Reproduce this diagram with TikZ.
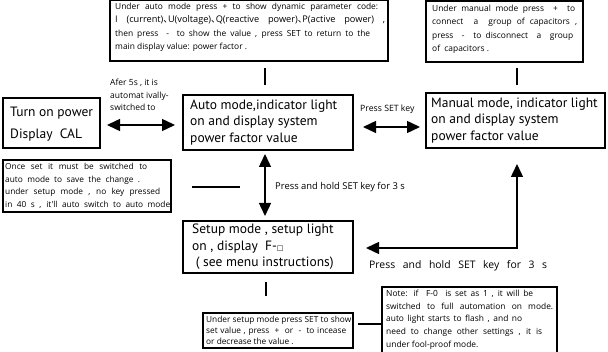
\documentclass[tikz,border=0pt]{standalone}
\usepackage{fontspec}
\setmainfont{PT Sans}
\newfontfamily\notefont{Open Sans}
\newfontfamily\cjkfont{Noto Sans CJK SC}
\newfontfamily\symfont{DejaVu Sans}
\usetikzlibrary{arrows.meta}
% narrow enumeration comma between the parameter names
\newcommand{\dunhao}{{\cjkfont 、}\kern-0.5em}
% one line of a note, spread to the given width
\newcommand{\fitline}[2]{\makebox[#1][s]{#2}}
\begin{document}
\begin{tikzpicture}[x=1pt,y=-1pt,
  frame/.style={draw,line width=1.1pt,anchor=north west,inner sep=0pt,outer sep=0pt},
  bigtext/.style={anchor=west,align=left,inner sep=0pt,font=\fontsize{13.5}{16.5}\selectfont},
  notetext/.style={anchor=north west,align=left,inner sep=0pt,font=\notefont\fontsize{8.4}{13.3}\selectfont},
  lbl/.style={align=left,inner sep=0pt,font=\notefont\fontsize{8.5}{12.5}\selectfont},
  conn/.style={line width=1.4pt},
  twotip/.style={{Triangle[length=13pt,width=12pt]}-{Triangle[length=13pt,width=12pt]}}]
\useasboundingbox (0,0) rectangle (608,352);

% ---- notes above the two running modes ----
\node[frame,minimum width=278pt,minimum height=61pt] (autonote) at (110,0) {};
\node[notetext] (autonotetxt) at ([shift={(5pt,-3pt)}]autonote.north west)
  {\fitline{263pt}{Under auto mode press + to show dynamic parameter code:}\\
   {\fontsize{9.2}{13.3}\selectfont\fitline{270pt}{I (current)\dunhao U(voltage)\dunhao Q(reactive power)\dunhao P(active power) ,}}\\
   \fitline{255pt}{then press \ - \ to show the value , press SET to return to the}\\
   main display value: power factor .};
\node[frame,minimum width=157pt,minimum height=61pt] (mannote) at (426,1) {};
\node[notetext] (mannotetxt) at ([shift={(6pt,-4pt)}]mannote.north west)
  {\fitline{143pt}{Under manual mode press \ + \ to}\\
   \fitline{145pt}{connect \ a \ group of capacitors ,}\\
   \fitline{141pt}{press \ - \ to disconnect \ a \ group}\\
   of \ capacitors .};

% ---- main state boxes ----
\node[frame,minimum width=97pt,minimum height=50pt] (power) at (3,98) {};
\node[bigtext,font=\fontsize{13.5}{22}\selectfont] (powertxt) at ([shift={(7pt,-1.5pt)}]power.west)
  {Turn on power\\ Display \ CAL};
\node[frame,minimum width=170pt,minimum height=55pt] (auto) at (183,95) {};
\node[bigtext] (autotxt) at ([xshift=7pt]auto.west)
  {Auto mode,indicator light\\ on and display system\\ power factor value};
\node[frame,minimum width=179pt,minimum height=55pt] (manual) at (426,93) {};
\node[bigtext] (manualtxt) at ([xshift=5pt]manual.west)
  {Manual mode, indicator light\\ on and display system\\ power factor value};
\node[frame,minimum width=170pt,minimum height=52pt] (setup) at (183,221) {};
\node[bigtext] (setuptxt) at ([xshift=9pt]setup.west)
  {Setup mode , setup light\\ on , display \ F-{\symfont\fontsize{7}{7}\selectfont □}\\
   \ ( see menu instructions)};

% ---- side notes ----
\node[frame,minimum width=168pt,minimum height=52pt] (savenote) at (3,160) {};
\node[notetext,font=\notefont\fontsize{8.3}{12.5}\selectfont] (savenotetxt) at ([shift={(2pt,-3pt)}]savenote.north west)
  {\fitline{142pt}{Once set it must be switched to}\\
   \fitline{135pt}{auto mode to save the change .}\\
   \fitline{155pt}{under setup mode , no key pressed}\\
   \fitline{165pt}{in 40 s , it'll auto switch to auto mode}};
\node[frame,minimum width=150pt,minimum height=35pt] (setnote) at (203,313) {};
\node[notetext,font=\notefont\fontsize{8.3}{11}\selectfont] (setnotetxt) at ([shift={(3pt,-3pt)}]setnote.north west)
  {\fitline{145pt}{Under setup mode press SET to show}\\
   \fitline{140pt}{set value , press \ + \ or \ - \ to incease}\\
   or decrease the value .};
\node[frame,minimum width=175pt,minimum height=66pt] (foolnote) at (382,287) {};
\node[notetext,font=\notefont\fontsize{8.4}{12.6}\selectfont] (foolnotetxt) at ([shift={(4pt,-3pt)}]foolnote.north west)
  {\fitline{147pt}{Note: if \ F-0 \ is set as 1 , it will be}\\
   \fitline{167pt}{switched to full automation on mode.}\\
   \fitline{136pt}{auto light starts to flash , and no}\\
   \fitline{156pt}{need to change other settings , it is}\\
   under fool-proof mode.};

% ---- transition labels ----
\node[lbl,anchor=north west] (lbl5s) at (110,79)
  {Afer 5s , it is\\ automat ivally-\\ switched to};
\node[lbl,anchor=west,font=\notefont\fontsize{8.7}{10}\selectfont] (lblset) at (360,109) {Press SET key};
\node[lbl,anchor=west,font=\notefont\fontsize{9.4}{10}\selectfont] (lblhold) at (275,187)
  {Press and hold SET key for 3 s};
\node[lbl,anchor=west,font=\notefont\fontsize{10.4}{10}\selectfont] (lblhold2) at (369,266)
  {\fitline{178pt}{Press and hold SET key for 3 s}};

% ---- connectors ----
\coordinate (autotickA) at (265,68);
\coordinate (autotickB) at (265,85);
\draw[conn] (autotickA) -- (autotickB);
\coordinate (mantickA) at (517,68);
\coordinate (mantickB) at (517,85);
\draw[conn] (mantickA) -- (mantickB);

\draw[conn,twotip,shorten <=7pt,shorten >=8pt] (power.east |- 0,125) -- (auto.west |- 0,125);
\draw[conn,twotip,shorten <=10pt,shorten >=6pt] (auto.east |- 0,127) -- (manual.west |- 0,127);

\draw[conn,twotip,shorten <=4pt,shorten >=5pt] (auto.south -| 265,0) -- (setup.north -| 265,0);

\coordinate (savelineA) at (192,187);
\coordinate (savelineB) at (240,187);
\draw[conn] (savelineA) -- (savelineB);

\coordinate (corner) at (517,248);
\draw[conn,twotip,shorten <=16pt,shorten >=13pt] (manual.south -| corner) -- (corner) -- (setup.east |- corner);

\coordinate (setuptickA) at (266,282);
\coordinate (setuptickB) at (266,296);
\draw[conn] (setuptickA) -- (setuptickB);
\draw[conn] (setnote.east |- 0,324) ++(5pt,0) coordinate (notelineA) -- (foolnote.west |- 0,324) ++(-3pt,0) coordinate (notelineB);
\end{tikzpicture}
\end{document}
